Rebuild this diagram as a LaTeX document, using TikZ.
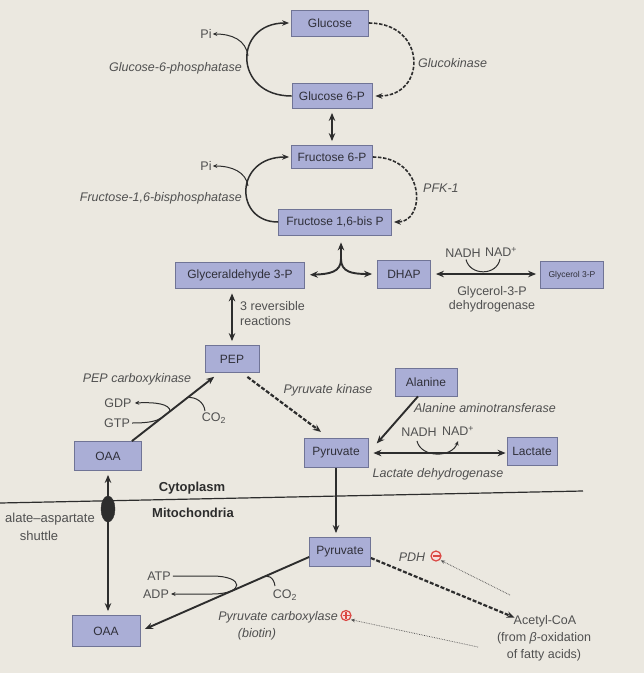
\documentclass[tikz,border=0pt]{standalone}
\usepackage{fontspec}
\setmainfont{Liberation Sans}
\usetikzlibrary{arrows.meta,shapes.geometric}
\definecolor{bg}{RGB}{235,232,224}
\definecolor{boxfill}{RGB}{170,174,214}
\definecolor{boxborder}{RGB}{112,116,150}
\definecolor{boxtext}{RGB}{48,48,58}
\definecolor{labc}{RGB}{80,80,80}
\definecolor{ln}{RGB}{45,45,45}
\definecolor{signred}{RGB}{218,70,66}
\begin{document}
\begin{tikzpicture}[x=1pt,y=-1pt,
  mybox/.style={draw=boxborder, fill=boxfill, line width=0.8pt, inner sep=0pt, text=boxtext, font=\fontsize{12}{14}\selectfont},
  elab/.style={font=\fontsize{12.5}{15}\selectfont\itshape, text=labc, inner sep=0pt},
  plab/.style={font=\fontsize{12.5}{15}\selectfont, text=labc, inner sep=0pt},
  blab/.style={font=\fontsize{13}{15}\selectfont\bfseries, text=ln, inner sep=0pt},
  thickarr/.style={draw=ln, line width=1.9pt, -{Stealth[length=8pt,width=6.5pt]}},
  dblarr/.style={draw=ln, line width=1.9pt, {Stealth[length=8pt,width=6.5pt]}-{Stealth[length=8pt,width=6.5pt]}},
  bendarr/.style={draw=ln, line width=1.5pt, -{Stealth[length=7pt,width=5.5pt]}},
  dasharr/.style={draw=ln, line width=1.6pt, dash pattern=on 3.5pt off 1.6pt, -{Stealth[length=7pt,width=5.5pt]}},
  thickdash/.style={draw=ln, line width=2.2pt, dash pattern=on 4pt off 1.8pt, -{Stealth[length=8pt,width=6.5pt]}},
  thinarr/.style={draw=ln, line width=1pt, -{Stealth[length=4.5pt,width=4pt]}},
  thinline/.style={draw=ln, line width=1pt},
  dotarr/.style={draw=labc, line width=0.7pt, densely dotted, -{Stealth[length=4pt,width=3.5pt]}},
  memline/.style={draw=ln, line width=1.2pt},
  signbase/.style={circle, draw=signred, fill=signred!18, line width=1.2pt, minimum size=10pt, inner sep=0pt},
  plussign/.style={signbase, path picture={
      \draw[signred, line width=1.2pt] ([xshift=-3.5pt]path picture bounding box.center) -- ([xshift=3.5pt]path picture bounding box.center);
      \draw[signred, line width=1.2pt] ([yshift=-3.5pt]path picture bounding box.center) -- ([yshift=3.5pt]path picture bounding box.center);}},
  minussign/.style={signbase, path picture={
      \draw[signred, line width=1.2pt] ([xshift=-3.5pt]path picture bounding box.center) -- ([xshift=3.5pt]path picture bounding box.center);}}
]
\useasboundingbox[fill=bg] (0,0) rectangle (644,673);

% ---- boxes ----
\node[mybox,minimum width=77pt,minimum height=26pt] (glc) at (330,23) {Glucose};
\node[mybox,minimum width=80pt,minimum height=25pt] (g6p) at (332,96) {Glucose 6-P};
\node[mybox,minimum width=81pt,minimum height=23pt] (f6p) at (332,157) {Fructose 6-P};
\node[mybox,minimum width=113pt,minimum height=26pt] (f16) at (335,222) {Fructose 1,6-bis P};
\node[mybox,minimum width=129pt,minimum height=26pt] (gap) at (240,275) {Glyceraldehyde 3-P};
\node[mybox,minimum width=53pt,minimum height=28pt] (dhap) at (404,274) {DHAP};
\node[mybox,minimum width=63pt,minimum height=27pt,font=\fontsize{8.5}{10}\selectfont] (g3p) at (572,275) {Glycerol 3-P};
\node[mybox,minimum width=54pt,minimum height=27pt] (pep) at (232,359) {PEP};
\node[mybox,minimum width=62pt,minimum height=28pt] (ala) at (426,382) {Alanine};
\node[mybox,minimum width=67pt,minimum height=29pt] (oaa1) at (108,456) {OAA};
\node[mybox,minimum width=64pt,minimum height=29pt] (pyr1) at (336,453) {Pyruvate};
\node[mybox,minimum width=50pt,minimum height=28pt] (lac) at (532,451) {Lactate};
\node[mybox,minimum width=61pt,minimum height=29pt] (pyr2) at (340,552) {Pyruvate};
\node[mybox,minimum width=68pt,minimum height=31pt] (oaa2) at (106,631) {OAA};

% ---- glucose / glucose 6-P cycle ----
\node[plab] (pi1) at (206,34) {Pi};
\node[elab,anchor=east] (g6pase) at (242,68) {Glucose-6-phosphatase};
\draw[bendarr,shorten >=2pt] (g6p.west) .. controls (233,96) and (233,23) .. (glc.west);
\coordinate (cj1) at (248,56);
\draw[thinarr] (cj1) .. controls (246,40) and (232,34) .. ([xshift=1pt]pi1.east);
\node[elab,anchor=west] (gk) at (418,63) {Glucokinase};
\draw[dasharr,shorten >=3pt] (glc.east) .. controls (427,23) and (427,96) .. (g6p.east);

\draw[dblarr,shorten <=4pt,shorten >=4pt] (g6p.south) -- (f6p.north);

% ---- fructose 6-P / fructose 1,6-bisP cycle ----
\node[plab] (pi2) at (206,166) {Pi};
\node[elab,anchor=east] (fbpase) at (242,198) {Fructose-1,6-bisphosphatase};
\draw[bendarr,shorten >=2pt] (f16.west) .. controls (234,222) and (234,157) .. (f6p.west);
\coordinate (cj2) at (248,186);
\draw[thinarr] (cj2) .. controls (246,172) and (232,166) .. ([xshift=1pt]pi2.east);
\node[elab,anchor=west] (pfk) at (423,188) {PFK-1};
\draw[dasharr,shorten >=2pt] (f6p.east) .. controls (426,157) and (426,222) .. (f16.east);

% ---- aldolase split ----
\coordinate (J) at (341,259);
\draw[thickarr,shorten >=7pt] (J) -- (J |- f16.south);
\draw[thickarr,shorten >=5pt] (J) .. controls (341,272) and (330,274) .. (gap.east);
\draw[thickarr,shorten >=5pt] (J) .. controls (341,272) and (352,274) .. (dhap.west);

% ---- DHAP / glycerol 3-P ----
\draw[dblarr,shorten <=5pt,shorten >=4pt] (dhap.east) -- (dhap.east -| g3p.west);
\node[plab] (nadh1) at (463,253) {NADH};
\node[plab] (nadp1) at (501,252) {NAD\textsuperscript{+}};
\draw[thinline] ([xshift=3pt,yshift=-2pt]nadh1.south) .. controls (470,276) and (497,276) .. ([xshift=-1pt,yshift=-2pt]nadp1.south);
\node[plab,align=center] (g3pdh) at (492,299.5) {Glycerol-3-P\\[-0.5pt]dehydrogenase};

% ---- triose to PEP ----
\draw[dblarr,shorten <=5pt,shorten >=4pt] (pep.north |- gap.south) -- (pep.north);
\node[plab,align=left,anchor=north west] (rev) at (240,301) {3 reversible\\reactions};

% ---- PEP carboxykinase ----
\draw[thickarr,shorten >=3pt] ([xshift=-10pt]oaa1.north east) -- ([xshift=12pt,yshift=-2pt]pep.south west)
  coordinate[pos=0.35] (d2) coordinate[pos=0.45] (d1) coordinate[pos=0.66] (d3);
\node[elab] (pepck) at (137,379) {PEP carboxykinase};
\node[plab] (gdp) at (118,403) {GDP};
\node[plab] (gtp) at (117,423) {GTP};
\node[plab] (co21) at (214,418) {CO\textsubscript{2}};
\draw[thinarr] (d1) .. controls (170,404) and (156,402) .. ([xshift=3pt]gdp.east);
\draw[thinline] ([xshift=2pt]gtp.east) .. controls (150,423) and (156,421) .. (d2);
\draw[thinline] (d3) .. controls (196,397) and (204,402) .. (205,411);

% ---- PEP -> pyruvate ----
\draw[thickdash,shorten >=2pt] ([xshift=-12pt,yshift=-4pt]pep.south east) -- ([xshift=19pt,yshift=5pt]pyr1.north west);
\node[elab] (pk) at (328,390) {Pyruvate kinase};

% ---- alanine ----
\draw[thickarr,shorten >=2pt] ([xshift=-8pt]ala.south) -- ([xshift=7pt,yshift=8pt]pyr1.east);
\node[elab] (alt) at (485,408) {Alanine aminotransferase};

% ---- lactate ----
\draw[dblarr,shorten <=5pt,shorten >=1pt] (pyr1.east) -- (pyr1.east -| lac.west);
\node[plab] (nadh2) at (419,432) {NADH};
\node[plab] (nadp2) at (458,431) {NAD\textsuperscript{+}};
\draw[thinarr] (417,441) .. controls (421,458) and (452,458) .. (458,441);
\node[elab] (ldh) at (438,474) {Lactate dehydrogenase};

% ---- membrane ----
\coordinate (m1) at (0,503);
\coordinate (m2) at (583,491);
\draw[memline] (m1) -- (m2);
\node[blab] (cyto) at (192,488) {Cytoplasm};
\node[blab] (mito) at (193,513) {Mitochondria};

% ---- shuttle ----
\draw[dblarr,shorten <=4pt,shorten >=4pt] (oaa1.south) -- (oaa1.south |- oaa2.north);
\node[ellipse, fill=ln, draw=ln, minimum width=14pt, minimum height=26pt, inner sep=0pt] (shut) at (108,509) {};
\node[font=\fontsize{13}{15}\selectfont, text=labc, inner sep=0pt, anchor=east] (mas1) at (95,519) {alate–aspartate};
\node[font=\fontsize{13}{15}\selectfont, text=labc, inner sep=0pt] (mas2) at (39,536) {shuttle};

% ---- pyruvate into mitochondria ----
\draw[thickarr,shorten >=4pt] (pyr1.south) -- (pyr1.south |- pyr2.north);

% ---- pyruvate carboxylase ----
\draw[thickarr,shorten >=5pt] ([yshift=-5pt]pyr2.west) -- (oaa2.east)
  coordinate[pos=0.47] (e1) coordinate[pos=0.285] (e2);
\node[plab] (atp) at (159,576) {ATP};
\node[plab] (adp) at (156,594) {ADP};
\draw[thinarr] ([xshift=2pt]atp.east) -- (212,576) .. controls (245,576) and (245,594) .. (212,594) -- ([xshift=2pt]adp.east);
\node[plab] (co22) at (285,595) {CO\textsubscript{2}};
\draw[thinline] (e2) .. controls (268,573) and (274,578) .. (275,586);
\node[elab,anchor=east] (pcl) at (338,617) {Pyruvate carboxylase};
\node[plussign] (pcs) at (346,615.5) {};
\node[elab] (biot) at (257,634) {(biotin)};

% ---- PDH ----
\node[elab] (pdh) at (412,557) {PDH};
\node[minussign] (pds) at (436,556) {};
\node[plab] (acoa) at (545,621) {Acetyl-CoA};
\node[font=\fontsize{12.5}{17}\selectfont, text=labc, inner sep=0pt, align=center] (acoa2) at (544,647) {(from \textit{β}-oxidation\\of fatty acids)};
\draw[thickdash,shorten >=1pt] ([yshift=-6pt]pyr2.east) -- ([xshift=2pt,yshift=3pt]acoa.west);
\coordinate (dt1) at (510,595);
\coordinate (dt2) at (478,647);
\draw[dotarr,shorten >=1pt] (dt1) -- (pds.south east);
\draw[dotarr,shorten >=1pt] (dt2) -- (pcs.south east);
\end{tikzpicture}
\end{document}
